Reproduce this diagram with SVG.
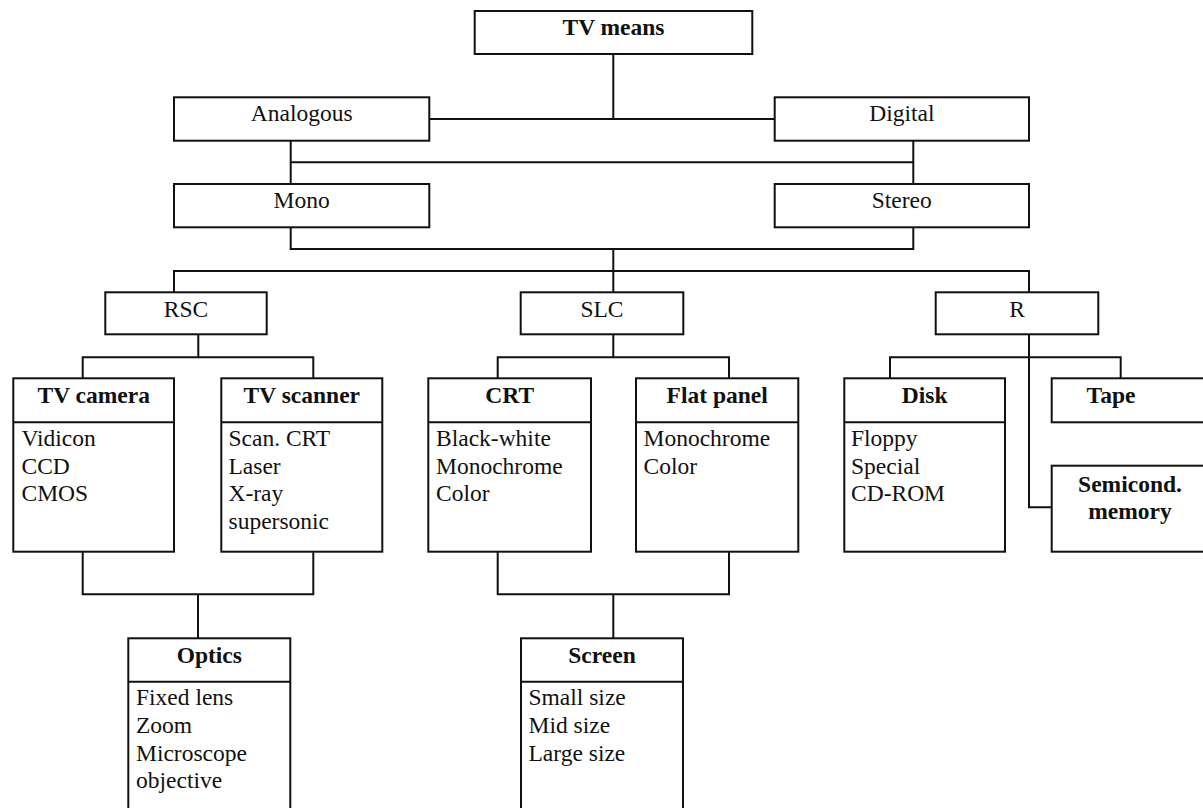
<svg xmlns="http://www.w3.org/2000/svg" width="1203" height="808" viewBox="0 0 1203 808">
<style>
rect, line.sep { fill: #fff; stroke: #111; stroke-width: 2; }
.c { fill: none; stroke: #111; stroke-width: 2; }
text { font-family: "Liberation Serif", "Times New Roman", serif; font-size: 23.5px; fill: #111; }
.b { font-weight: bold; }
.m { text-anchor: middle; }
</style>
<rect x="0" y="0" width="1203" height="808" style="fill:#fff;stroke:none"/>
<g id="connectors">
<path class="c" d="M613.3 54 V119 M429.3 119 H774.7"/>
<path class="c" d="M290.7 140.7 V184 M913.3 140.7 V184 M290.7 162.3 H913.3"/>
<path class="c" d="M290.7 227.3 V249 H913.3 V227.3 M613.3 249 V292.3"/>
<path class="c" d="M174 292.3 V271 H1029 V292.3"/>
<path class="c" d="M198.3 334.3 V357.3 M82.7 378.3 V357.3 H313.3 V378.3"/>
<path class="c" d="M613.3 334.3 V357.3 M497.7 378.3 V357.3 H729 V378.3"/>
<path class="c" d="M1029 334.3 V507.3 H1051.7 M890 378.3 V357.3 H1120.7 V378.3"/>
<path class="c" d="M82.7 551.7 V594.3 H313.3 V551.7 M198 594.3 V638.3"/>
<path class="c" d="M497.7 551.7 V594.3 H729 V551.7 M613.3 594.3 V638.3"/>
</g>
<g id="tv-means"><rect x="474.7" y="11" width="277.6" height="43"/><text class="b m" x="613.5" y="34.5">TV means</text></g>
<g id="analogous"><rect x="174" y="97.3" width="255.3" height="43.4"/><text class="m" x="301.7" y="121">Analogous</text></g>
<g id="digital"><rect x="774.7" y="97.3" width="254.3" height="43.4"/><text class="m" x="901.8" y="121">Digital</text></g>
<g id="mono"><rect x="174" y="184" width="255.3" height="43.3"/><text class="m" x="301.7" y="207.7">Mono</text></g>
<g id="stereo"><rect x="774.7" y="184" width="254.3" height="43.3"/><text class="m" x="901.8" y="207.7">Stereo</text></g>
<g id="rsc"><rect x="105.3" y="292.3" width="161.4" height="42"/><text class="m" x="186" y="316.7">RSC</text></g>
<g id="slc"><rect x="520.7" y="292.3" width="162.6" height="42"/><text class="m" x="602" y="316.7">SLC</text></g>
<g id="r"><rect x="935.7" y="292.3" width="162.6" height="42"/><text class="m" x="1017" y="316.7">R</text></g>
<g id="tv-camera"><rect x="13.3" y="378.3" width="160.7" height="173.4"/><line class="sep" x1="13.3" y1="422.3" x2="174" y2="422.3"/>
<text class="b m" x="93.7" y="403.3">TV camera</text>
<text x="21.5" y="445.7">Vidicon</text><text x="21.5" y="473.5">CCD</text><text x="21.5" y="501.3">CMOS</text></g>
<g id="tv-scanner"><rect x="221.3" y="378.3" width="161" height="173.4"/><line class="sep" x1="221.3" y1="422.3" x2="382.3" y2="422.3"/>
<text class="b m" x="301.8" y="403.3">TV scanner</text>
<text x="228.5" y="445.7">Scan. CRT</text><text x="228.5" y="473.5">Laser</text><text x="228.5" y="501.3">X-ray</text><text x="228.5" y="529.1">supersonic</text></g>
<g id="crt"><rect x="428.3" y="378.3" width="162.7" height="173.4"/><line class="sep" x1="428.3" y1="422.3" x2="591" y2="422.3"/>
<text class="b m" x="509.7" y="403.3">CRT</text>
<text x="436" y="445.7">Black-white</text><text x="436" y="473.5">Monochrome</text><text x="436" y="501.3">Color</text></g>
<g id="flat-panel"><rect x="636" y="378.3" width="162.3" height="173.4"/><line class="sep" x1="636" y1="422.3" x2="798.3" y2="422.3"/>
<text class="b m" x="717.2" y="403.3">Flat panel</text>
<text x="643.5" y="445.7">Monochrome</text><text x="643.5" y="473.5">Color</text></g>
<g id="disk"><rect x="844.3" y="378.3" width="160.7" height="173.4"/><line class="sep" x1="844.3" y1="422.3" x2="1005" y2="422.3"/>
<text class="b m" x="924.7" y="403.3">Disk</text>
<text x="851" y="445.7">Floppy</text><text x="851" y="473.5">Special</text><text x="851" y="501.3">CD-ROM</text></g>
<g id="tape"><rect x="1051.7" y="378.3" width="160.3" height="44"/><text class="b m" x="1111" y="403.3">Tape</text></g>
<g id="semicond-memory"><rect x="1051.7" y="465.7" width="160.3" height="86"/><text class="b m" x="1130" y="492.3">Semicond.</text><text class="b m" x="1130" y="518.5">memory</text></g>
<g id="optics"><rect x="128.3" y="638.3" width="162" height="190"/><line class="sep" x1="128.3" y1="681.7" x2="290.3" y2="681.7"/>
<text class="b m" x="209.3" y="663.3">Optics</text>
<text x="136" y="705">Fixed lens</text><text x="136" y="732.8">Zoom</text><text x="136" y="760.6">Microscope</text><text x="136" y="788.4">objective</text></g>
<g id="screen"><rect x="521" y="638.3" width="162" height="190"/><line class="sep" x1="521" y1="681.7" x2="683" y2="681.7"/>
<text class="b m" x="602" y="663.3">Screen</text>
<text x="528.5" y="705">Small size</text><text x="528.5" y="732.8">Mid size</text><text x="528.5" y="760.6">Large size</text></g>
</svg>
